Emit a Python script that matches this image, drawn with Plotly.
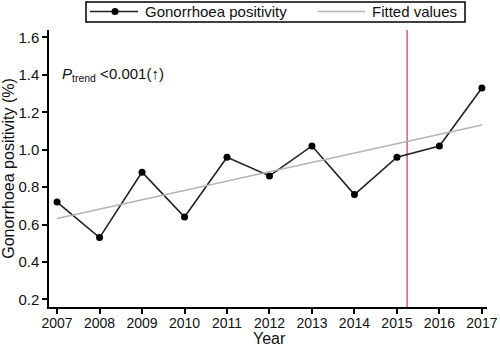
import plotly.graph_objects as go

years = [2007, 2008, 2009, 2010, 2011, 2012, 2013, 2014, 2015, 2016, 2017]
positivity = [0.72, 0.53, 0.88, 0.64, 0.96, 0.86, 1.02, 0.76, 0.96, 1.02, 1.33]
fit_years = [2007, 2017]
fit_values = [0.632, 1.132]
cut_year = 2015.24
y_ticks = [0.2, 0.4, 0.6, 0.8, 1.0, 1.2, 1.4, 1.6]
legend_labels = ["Gonorrhoea positivity", "Fitted values"]
x_title = "Year"
y_title = "Gonorrhoea positivity (%)"

FONT = "Liberation Sans, Arial, Helvetica, sans-serif"
LINE_C = "#222222"
FIT_C = "#b4b4b4"
RED_C = "#d66a7c"

# plot area in pixels: x 49..487, y 30..307
L, R, T, B = 49, 13, 30, 40
W, H = 500, 347
PW, PH = W - L - R, H - T - B


def px(x):
    return (x - L) / PW


def py(y):
    return (H - B - y) / PH


fig = go.Figure()
fig.add_trace(go.Scatter(
    x=years, y=positivity, mode="lines+markers", name=legend_labels[0],
    line=dict(color=LINE_C, width=1.6),
    marker=dict(color="#000000", size=7), showlegend=False,
))
fig.add_trace(go.Scatter(
    x=fit_years, y=fit_values, mode="lines", name=legend_labels[1],
    line=dict(color=FIT_C, width=1.6), showlegend=False,
))
fig.add_shape(type="line", xref="x", yref="paper", x0=cut_year, x1=cut_year, y0=0, y1=1,
              line=dict(color=RED_C, width=1.6), layer="below")

# manual legend (box above plot)
fig.add_shape(type="rect", xref="paper", yref="paper", x0=px(86), x1=px(465), y0=py(22), y1=py(2),
              line=dict(color="#000000", width=1.5), fillcolor="white")
fig.add_shape(type="line", xref="paper", yref="paper", x0=px(90), x1=px(138), y0=py(11.5), y1=py(11.5),
              line=dict(color=LINE_C, width=1.6))
fig.add_shape(type="circle", xref="paper", yref="paper", xsizemode="pixel", ysizemode="pixel",
              xanchor=px(115), yanchor=py(11.5), x0=-3.5, x1=3.5, y0=-3.5, y1=3.5,
              line=dict(color="#000000", width=0), fillcolor="#000000")
fig.add_shape(type="line", xref="paper", yref="paper", x0=px(318), x1=px(365), y0=py(11.5), y1=py(11.5),
              line=dict(color=FIT_C, width=1.6))
fig.add_annotation(xref="paper", yref="paper", x=px(143), y=py(11.5), xanchor="left", yanchor="middle",
                   text=legend_labels[0], showarrow=False, font=dict(family=FONT, size=15, color="#111111"))
fig.add_annotation(xref="paper", yref="paper", x=px(370), y=py(11.5), xanchor="left", yanchor="middle",
                   text=legend_labels[1], showarrow=False, font=dict(family=FONT, size=15, color="#111111"))

fig.add_annotation(xref="paper", yref="y", x=px(60), y=1.4, xanchor="left", yanchor="middle",
                   text="<i>P</i><sub>trend</sub> <0.001(↑)", showarrow=False,
                   font=dict(family=FONT, size=15, color="#111111"))

# x axis title
fig.add_annotation(xref="paper", yref="paper", x=px(269), y=py(338), xanchor="center", yanchor="middle",
                   text=x_title, showarrow=False, font=dict(family=FONT, size=16, color="#111111"))

fig.update_layout(
    width=W, height=H,
    margin=dict(l=L, r=R, t=T, b=B, autoexpand=False),
    paper_bgcolor="white", plot_bgcolor="white",
    font=dict(family=FONT, size=14, color="#111111"),
    showlegend=False,
    xaxis=dict(range=[2006.81, 2017.12], tickmode="array", tickvals=years,
               showgrid=False, zeroline=False, showline=True, linecolor="#000000", linewidth=1.5,
               ticks="outside", ticklen=5, tickwidth=1.5, tickcolor="#000000",
               ticklabelstandoff=-3,
               tickfont=dict(size=14), automargin=False),
    yaxis=dict(range=[0.159, 1.64], tickmode="array", tickvals=y_ticks,
               ticktext=[f"{v:.1f}" for v in y_ticks],
               showgrid=False, zeroline=False, showline=True, linecolor="#000000", linewidth=1.5,
               ticks="outside", ticklen=5, tickwidth=1.5, tickcolor="#000000",
               title=dict(text=y_title, standoff=4, font=dict(size=16)),
               tickfont=dict(size=15), automargin=False),
)

fig.write_html("out.html", config={"displayModeBar": False},
               post_script="document.body.style.margin='0';document.body.style.overflow='hidden';")
